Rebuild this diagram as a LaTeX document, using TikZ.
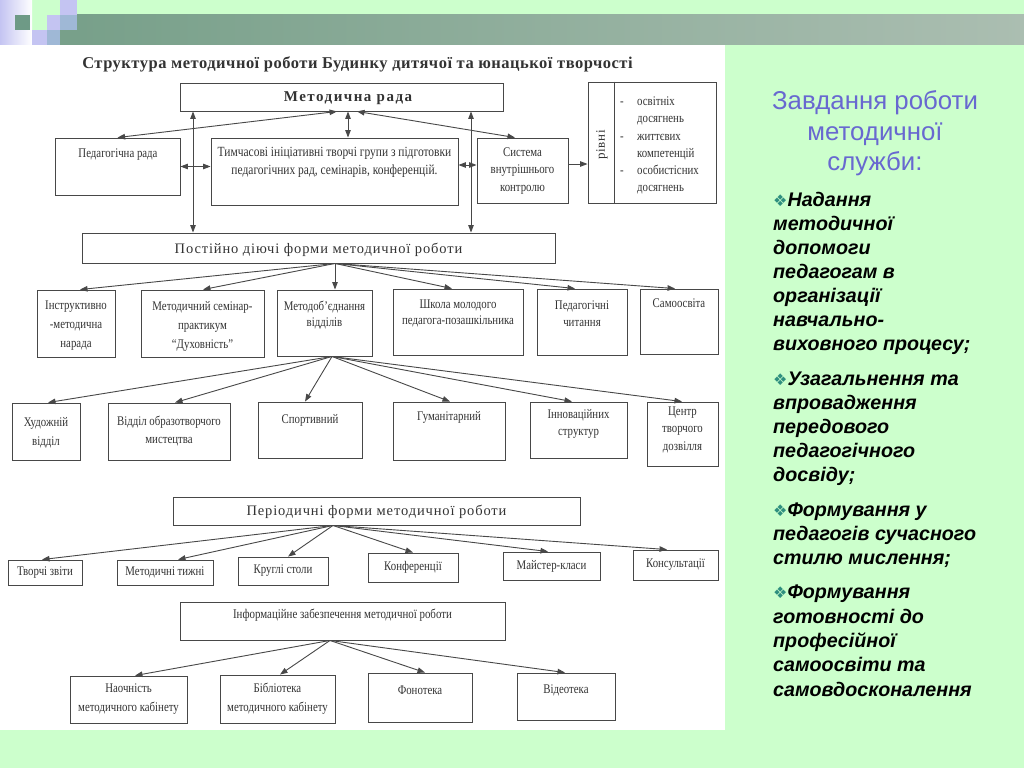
\documentclass[tikz,border=0pt]{standalone}
\usepackage{fontspec}
\setmainfont{Liberation Serif}
\newfontfamily\cond[FakeStretch=0.82]{Liberation Serif}
\newfontfamily\serifsp[LetterSpace=6]{Liberation Serif}
\newfontfamily\seriftt[LetterSpace=3]{Liberation Serif}
\newfontfamily\serifbsp[LetterSpace=10]{Liberation Serif}
\newfontfamily\arial{Liberation Sans}
\newfontfamily\djv{DejaVu Sans}
\usetikzlibrary{arrows.meta,calc}
\definecolor{bgg}{HTML}{CCFFCC}
\definecolor{lav}{HTML}{C4C4F2}
\definecolor{dgr}{HTML}{6E9A86}
\definecolor{lbl}{HTML}{9FB8D6}
\definecolor{barl}{HTML}{78A08A}
\definecolor{barr}{HTML}{ABBEB1}
\definecolor{linec}{HTML}{484848}
\definecolor{txtc}{HTML}{333333}
\definecolor{ttlc}{HTML}{6868D0}
\definecolor{bulc}{HTML}{2F8F7F}
\tikzset{
  bxs/.style={draw=linec, line width=0.9pt, inner sep=0pt, fill=white},
  txt/.style={text=txtc, inner sep=0pt, align=center, font=\cond\fontsize{13.2}{19}\selectfont},
  arr/.style={draw=linec, line width=0.9pt, -{Triangle[length=7.5pt,width=5.5pt]}},
  arr2/.style={draw=linec, line width=0.9pt, {Triangle[length=7.5pt,width=5.5pt]}-{Triangle[length=7.5pt,width=5.5pt]}},
  rtx/.style={anchor=base west, inner sep=0pt, font=\arial\bfseries\itshape\fontsize{19.7}{24}\selectfont},
  rtt/.style={anchor=base, inner sep=0pt, text=ttlc, font=\arial\fontsize{25.8}{30}\selectfont},
  itx/.style={text=txtc, inner sep=0pt, anchor=base west, font=\cond\fontsize{13.2}{15}\selectfont},
}
% box: name, x1, y1, x2, y2
\newcommand{\bx}[5]{\node[bxs, minimum width={(#4-#2)*1pt}, minimum height={(#5-#3)*1pt}] (#1) at ({(#2+#4)/2},{(#3+#5)/2}) {};}
\newcommand{\bul}{{\djv\color{bulc}\fontsize{16}{16}\selectfont ❖}}
\newcommand{\dsh}{\makebox[17pt][l]{-}}
\newcommand{\ndsh}{\hspace*{17pt}}
\begin{document}
\begin{tikzpicture}[x=1pt,y=-1pt]
\useasboundingbox (0,0) rectangle (1024,768);
\fill[bgg] (0,0) rectangle (1024,768);
% header decoration
\shade[left color=lav, right color=white] (0,0) rectangle (32,45);
\shade[left color=barl, right color=barr] (77,15) rectangle (1024,45);
\fill[barl] (60,30) rectangle (77,45);
\fill[dgr] (15,15) rectangle (30,30);
\fill[lav] (60,0) rectangle (77,15);
\fill[lav] (47,15) rectangle (60,30);
\fill[lbl] (60,15) rectangle (77,30);
\fill[lav] (32,30) rectangle (47,45);
\fill[lbl] (47,30) rectangle (60,45);
% white panel
\fill[white] (0,45) rectangle (725,730);

\node[inner sep=0pt, anchor=base, text=txtc, font=\seriftt\bfseries\fontsize{16.5}{18}\selectfont] (title) at (357.5,68) {Структура методичної роботи Будинку дитячої та юнацької творчості};

% top level
\bx{mr}{180}{83}{503}{111}
\node[inner sep=0pt, text=txtc, font=\serifbsp\bfseries\fontsize{15}{16}\selectfont] (mrt) at (348,98) {Методична рада};
\bx{pr}{55}{138}{180}{195}
\node[txt] (prt) at (118,155) {Педагогічна рада};
\bx{tg}{211}{138}{458}{205}
\node[txt, font=\cond\fontsize{14}{18}\selectfont] (tgt) at (334.5,162) {Тимчасові ініціативні творчі групи з підготовки\\педагогічних рад, семінарів, конференцій.};
\bx{sk}{477}{138}{568}{203}
\node[txt, font=\cond\fontsize{13.2}{17.5}\selectfont] (skt) at (522.5,171) {Система\\внутрішнього\\контролю};
\bx{rv}{588}{82}{716}{203}
\draw[draw=linec, line width=0.9pt] ([xshift=27pt]rv.north west) -- ([xshift=27pt]rv.south west);
\node[txt, rotate=90, font=\serifsp\fontsize{13}{14}\selectfont] (rvt) at (602,145) {рівні};
\node[itx] (ra) at (620,105) {\dsh освітніх};
\node[itx] (rb) at (620,122) {\ndsh досягнень};
\node[itx] (rc) at (620,140) {\dsh життєвих};
\node[itx] (rd) at (620,157) {\ndsh компетенцій};
\node[itx] (re) at (620,174) {\dsh особистісних};
\node[itx] (rf) at (620,191) {\ndsh досягнень};

\draw[arr2] ([xshift=-4.5pt]mr.south) -- (pr.north);
\draw[arr2] ([xshift=6.5pt]mr.south) -- ([xshift=13.5pt]tg.north);
\draw[arr2] ([xshift=15.5pt]mr.south) -- ([xshift=-7.5pt]sk.north);
\draw[arr2] (pr.east) -- (pr.east -| tg.west);
\draw[arr2] ([yshift=6.5pt]tg.east) -- ([yshift=6.5pt]tg.east -| sk.west);
\draw[arr] ([yshift=6.5pt]sk.east) -- ([yshift=6.5pt]sk.east -| rv.west);

% permanent forms
\bx{post}{82}{233}{555}{263}
\node[inner sep=0pt, text=txtc, font=\serifsp\fontsize{14.5}{16}\selectfont] (postt) at (318.5,250) {Постійно діючі форми методичної роботи};
\draw[arr2] ([xshift=-125.5pt]post.north) -- ([xshift=-125.5pt]post.north |- mr.south);
\draw[arr2] ([xshift=152.5pt]post.north) -- ([xshift=152.5pt]post.north |- mr.south);

\bx{n1}{37}{290}{115}{357}
\node[txt] (n1t) at (76,326) {Інструктивно\\-методична\\нарада};
\bx{n2}{141}{290}{264}{357}
\node[txt] (n2t) at (202.5,326) {Методичний семінар-\\практикум\\“Духовність”};
\bx{n3}{277}{290}{372}{356}
\node[txt, font=\cond\fontsize{13.2}{16.5}\selectfont] (n3t) at (324.5,315) {Методоб’єднання\\відділів};
\bx{n4}{393}{289}{523}{355}
\node[txt, font=\cond\fontsize{13.2}{16}\selectfont] (n4t) at (458,313) {Школа молодого\\педагога-позашкільника};
\bx{n5}{537}{289}{627}{355}
\node[txt, font=\cond\fontsize{13.2}{17}\selectfont] (n5t) at (582,313.5) {Педагогічні\\читання};
\bx{n6}{640}{289}{718}{354}
\node[txt] (n6t) at (679,303) {Самоосвіта};

\coordinate (ps) at ([xshift=16.5pt]post.south);
\draw[arr] (ps) -- ([xshift=4pt]n1.north);
\draw[arr] (ps) -- ([xshift=0.5pt]n2.north);
\draw[arr] (ps) -- ([xshift=10.5pt]n3.north);
\draw[arr] (ps) -- ([xshift=-6pt]n4.north);
\draw[arr] (ps) -- ([xshift=-7pt]n5.north);
\draw[arr] (ps) -- ([xshift=-4pt]n6.north);

% departments
\bx{d1}{12}{403}{80}{460}
\node[txt] (d1t) at (46,432.5) {Художній\\відділ};
\bx{d2}{108}{403}{230}{460}
\node[txt, font=\cond\fontsize{13.2}{18}\selectfont] (d2t) at (169,431) {Відділ образотворчого\\мистецтва};
\bx{d3}{258}{402}{362}{458}
\node[txt] (d3t) at (310,420) {Спортивний};
\bx{d4}{393}{402}{505}{460}
\node[txt] (d4t) at (449,417) {Гуманітарний};
\bx{d5}{530}{402}{627}{458}
\node[txt, font=\cond\fontsize{13.2}{17}\selectfont] (d5t) at (578.5,423.5) {Інноваційних\\структур};
\bx{d6}{647}{402}{718}{466}
\node[txt, font=\cond\fontsize{13.2}{17.5}\selectfont] (d6t) at (682.5,429.5) {Центр\\творчого\\дозвілля};

\coordinate (ns) at ([xshift=7.5pt]n3.south);
\draw[arr] (ns) -- ([xshift=2pt]d1.north);
\draw[arr] (ns) -- ([xshift=6pt]d2.north);
\draw[arr] (ns) -- ([xshift=-5pt]d3.north);
\draw[arr] (ns) -- ([xshift=1pt]d4.north);
\draw[arr] (ns) -- ([xshift=-6.5pt]d5.north);
\draw[arr] (ns) -- ([xshift=-0.5pt]d6.north);

% periodic forms
\bx{per}{173}{497}{580}{525}
\node[inner sep=0pt, text=txtc, font=\serifsp\fontsize{14.5}{16}\selectfont] (pert) at (376.5,512) {Періодичні форми методичної роботи};
\bx{p1}{8}{560}{82}{585}
\node[txt] (p1t) at (45,572.5) {Творчі звіти};
\bx{p2}{117}{560}{213}{585}
\node[txt] (p2t) at (165,572.5) {Методичні тижні};
\bx{p3}{238}{557}{328}{585}
\node[txt] (p3t) at (283,571) {Круглі столи};
\bx{p4}{368}{553}{458}{582}
\node[txt] (p4t) at (413,567.5) {Конференції};
\bx{p5}{503}{552}{600}{580}
\node[txt] (p5t) at (551.5,566) {Майстер-класи};
\bx{p6}{633}{550}{718}{580}
\node[txt] (p6t) at (675.5,565) {Консультації};

\coordinate (pss) at ([xshift=-43.5pt]per.south);
\draw[arr] (pss) -- ([xshift=-3pt]p1.north);
\draw[arr] (pss) -- ([xshift=13pt]p2.north);
\draw[arr] (pss) -- ([xshift=5pt]p3.north);
\draw[arr] (pss) -- (p4.north);
\draw[arr] (pss) -- ([xshift=-3.5pt]p5.north);
\draw[arr] (pss) -- ([xshift=-8.5pt]p6.north);

% information support
\bx{inf}{180}{602}{505}{640}
\node[txt, font=\cond\fontsize{13.3}{14}\selectfont] (inft) at (342.5,615) {Інформаційне забезпечення методичної роботи};
\bx{i1}{70}{676}{187}{723}
\node[txt] (i1t) at (128.5,699.5) {Наочність\\методичного кабінету};
\bx{i2}{220}{675}{335}{723}
\node[txt] (i2t) at (277.5,699) {Бібліотека\\методичного кабінету};
\bx{i3}{368}{673}{472}{722}
\node[txt] (i3t) at (420,690) {Фонотека};
\bx{i4}{517}{673}{615}{720}
\node[txt] (i4t) at (566,690) {Відеотека};

\coordinate (is) at ([xshift=-12.5pt]inf.south);
\draw[arr] (is) -- ([xshift=6.5pt]i1.north);
\draw[arr] (is) -- ([xshift=2.5pt]i2.north);
\draw[arr] (is) -- ([xshift=5pt]i3.north);
\draw[arr] (is) -- ([xshift=-1pt]i4.north);

% right side text
\node[rtt] (h1) at (875,109) {Завдання роботи};
\node[rtt] (h2) at (875,140) {методичної};
\node[rtt] (h3) at (875,170) {служби:};

\node[rtx] (r1) at (773,206) {\bul Надання};
\node[rtx] (r2) at (773,230) {методичної};
\node[rtx] (r3) at (773,254) {допомоги};
\node[rtx] (r4) at (773,278) {педагогам в};
\node[rtx] (r5) at (773,302) {організації};
\node[rtx] (r6) at (773,326) {навчально-};
\node[rtx] (r7) at (773,350) {виховного процесу;};
\node[rtx] (r8) at (773,385) {\bul Узагальнення та};
\node[rtx] (r9) at (773,409) {впровадження};
\node[rtx] (r10) at (773,433) {передового};
\node[rtx] (r11) at (773,457) {педагогічного};
\node[rtx] (r12) at (773,481) {досвіду;};
\node[rtx] (r13) at (773,516) {\bul Формування у};
\node[rtx] (r14) at (773,540) {педагогів сучасного};
\node[rtx] (r15) at (773,564) {стилю мислення;};
\node[rtx] (r16) at (773,598) {\bul Формування};
\node[rtx] (r17) at (773,623) {готовності до};
\node[rtx] (r18) at (773,647) {професійної};
\node[rtx] (r19) at (773,671) {самоосвіти та};
\node[rtx] (r20) at (773,696) {самовдосконалення};
\end{tikzpicture}
\end{document}
